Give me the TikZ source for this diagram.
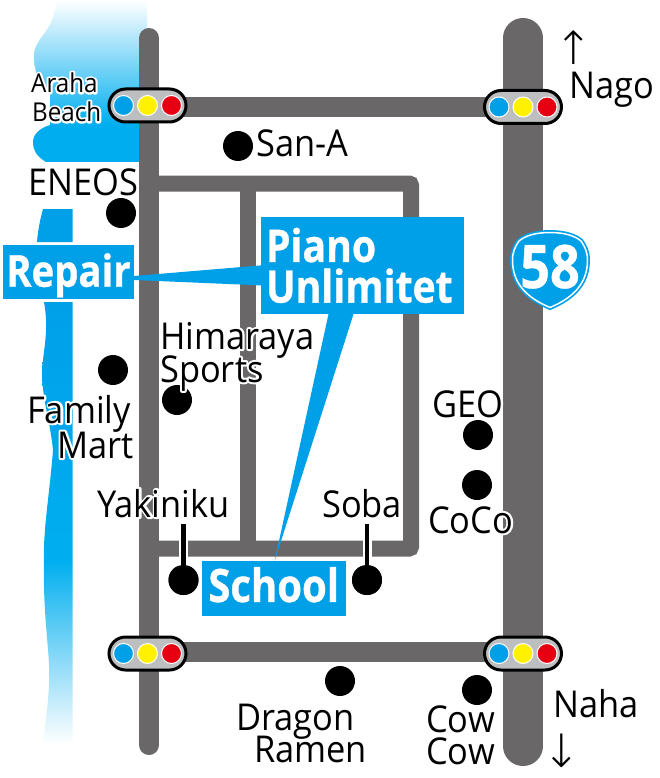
\documentclass[tikz,border=0pt]{standalone}
\usepackage{fontspec}
\setmainfont{Open Sans}[FakeStretch=0.93]
\newfontfamily\calloutfont{Open Sans}[FakeStretch=0.87,BoldFeatures={FakeBold=0.7}]
\newfontfamily\arrowfont{DejaVu Sans ExtraLight}
\usetikzlibrary{shapes.misc,positioning}
\definecolor{roadgray}{HTML}{696767}
\definecolor{boxblue}{HTML}{00A0E9}
\definecolor{seablue}{HTML}{00AEEF}
\definecolor{lampgray}{HTML}{BCBEC0}
\definecolor{lampyellow}{HTML}{FFF100}
\definecolor{lampred}{HTML}{E60012}
\newcommand{\halo}[1]{\leavevmode\rlap{\special{pdf:code 1 1 1 RG 4 w 1 j 1 Tr}#1\special{pdf:code 0 Tr}}#1}
\tikzset{
	mainroad/.style={draw=roadgray,line width=40pt,line cap=round},
	road/.style={draw=roadgray,line width=20pt,line cap=round},
	sideroad/.style={draw=roadgray,line width=16pt,rounded corners=2pt},
	tlight/.style={rounded rectangle,draw=black,fill=lampgray,line width=3pt,minimum width=77pt,minimum height=33pt,inner sep=0pt},
	lamp/.style={circle,draw=white,line width=1pt,minimum size=20pt,inner sep=0pt},
	shop/.style={circle,fill=black,minimum size=30pt,inner sep=0pt},
	stem/.style={draw=white,double=black,line width=2.25pt,double distance=4.5pt},
	place/.style={anchor=base west,inner sep=0pt,font=\fontsize{37}{37}\selectfont},
	beach/.style={place,font=\fontsize{26}{26}\selectfont},
	way/.style={anchor=base,inner sep=0pt,font=\arrowfont\fontsize{46}{46}\selectfont},
	callout/.style={fill=boxblue,text=white,inner sep=0pt,font=\calloutfont\bfseries\fontsize{44}{44}\selectfont},
	pointer/.style={fill=boxblue}
}
\begin{document}
\begin{tikzpicture}[x=1pt,y=-1pt]
	\useasboundingbox (0,0) rectangle (660,778);

	\shade[top color=white,bottom color=seablue] (56,0) -- (147,0) -- (147,125) -- (50,125) -- (50,95) .. controls (38,85) and (34,70) .. (34,55) .. controls (34,38) and (56,30) .. (56,0) -- cycle;
	\fill[seablue] (147,125) -- (147,162) -- (46,162) .. controls (36,156) and (33,150) .. (33,142) .. controls (33,134) and (40,128) .. (50,125) -- cycle;
	\fill[boxblue] (43,209) -- (72.5,209) -- (72.5,242) -- (37,242) .. controls (38,230) and (40,220) .. (43,209) -- cycle;
	\shade[top color=boxblue,bottom color=seablue] (44,302) -- (72.5,302) -- (72.5,560) -- (44,560) .. controls (43,530) and (50,490) .. (53,450) .. controls (50,420) and (42,400) .. (42,370) .. controls (44,345) and (49,330) .. (44,302) -- cycle;
	\shade[top color=seablue,bottom color=white] (44,560) -- (72.5,560) -- (72.5,744) -- (43,744) .. controls (45,720) and (50,700) .. (49,665) .. controls (48,640) and (43,610) .. (44,560) -- cycle;

	\coordinate (nwroad) at (149,107);
	\coordinate (neroad) at (523,107);
	\coordinate (swroad) at (149,652);
	\coordinate (seroad) at (523,652);
	\draw[road] (149,38) -- (149,745);
	\draw[mainroad] (523,38) -- (523,746);
	\draw[road,line cap=butt] (nwroad) -- (neroad);
	\draw[road,line cap=butt] (swroad) -- (seroad);
	\coordinate (tl) at (149,183.5);
	\coordinate (tm) at (248,183.5);
	\coordinate (tr) at (411,183.5);
	\coordinate (br) at (411,548.5);
	\coordinate (bm) at (248,548.5);
	\coordinate (bl) at (149,548.5);
	\draw[sideroad] (tl) -- (tr) -- (br) -- (bl);
	\draw[sideroad] (tm) -- (bm);

	\foreach \lname/\lx/\ly in {nw/147.5/105.5,ne/523/107,sw/147.5/653.5,se/523/653.5}{
		\node[tlight] (\lname) at (\lx,\ly) {};
		\node[lamp,fill=boxblue,left=13.5pt of \lname.center] (\lname b) {};
		\node[lamp,fill=lampyellow] (\lname y) at (\lname.center) {};
		\node[lamp,fill=lampred,right=13.5pt of \lname.center] (\lname r) {};
	}

	\node[shop] (eneosdot) at (121,213) {};
	\node[shop] (sanadot) at (238,146) {};
	\node[shop] (familydot) at (113,370) {};
	\node[shop] (himarayadot) at (177,400) {};
	\node[shop] (geodot) at (478,435) {};
	\node[shop] (cocodot) at (477,485) {};
	\node[shop] (dragondot) at (340,681) {};
	\node[shop] (cowdot) at (477,690) {};
	\node[shop] (yakinikudot) at (183.5,580) {};
	\node[shop] (sobadot) at (367,580) {};

	\node[place] (eneos) at (28,195) {ENEOS};
	\node[place] (sana) at (256,157) {San-A};
	\node[place] (nago) at (569,99) {Nago};
	\node[place] (naha) at (553,717) {Naha};
	\node[place] (himaraya) at (160,349) {\halo{Himaraya}};
	\node[place] (sports) at (160,382) {\halo{Sports}};
	\node[place] (family) at (27,423) {\halo{Family}};
	\node[place] (mart) at (57,458) {\halo{Mart}};
	\node[place] (yakiniku) at (97,517) {\halo{Yakiniku}};
	\node[place] (soba) at (322,517) {\halo{Soba}};
	\node[place] (geo) at (432,417) {\halo{GEO}};
	\node[place] (coco) at (428,533) {\halo{CoCo}};
	\node[place] (dragon) at (236,730) {Dragon};
	\node[place] (ramen) at (254,762) {Ramen};
	\node[place] (cow) at (426,732) {Cow};
	\node[place] (cowb) at (426,764) {Cow};
	\node[beach] (araha) at (31,92.5) {\halo{Araha}};
	\node[beach] (beach) at (32,121.5) {\halo{Beach}};
	\node[way] (north) at (574,65) {↑};
	\node[way] (south) at (562,767) {↓};

	\draw[stem,shorten >=6pt] (yakinikudot.center) -- (yakinikudot.center |- yakiniku.south);
	\draw[stem,shorten >=6pt] (sobadot.center) -- (sobadot.center |- soba.south);
	\node[shop] at (yakinikudot) {};
	\node[shop] at (sobadot) {};

	\node[callout,minimum width=131pt,minimum height=54pt,text depth=4pt] (repair) at (68.5,272) {Repair};
	\node[callout,minimum width=144pt,minimum height=55pt,text depth=8pt,font=\calloutfont\bfseries\fontsize{46}{46}\selectfont] (school) at (273.7,588.5) {School};
	\node[callout,minimum width=203pt,minimum height=97pt,text width=193pt,align=left,font=\calloutfont\bfseries\fontsize{45}{40.7}\selectfont] (piano) at (362.5,265.4) {Piano\\Unlimitet};
	\fill[pointer] ([yshift=-4pt]repair.east) -- (piano.west) -- ([yshift=-20pt]piano.west) -- ([yshift=-8pt]repair.east) -- cycle;
	\fill[pointer] ([xshift=-34pt]piano.south) -- ([xshift=-9pt]piano.south) -- ([xshift=1pt]school.north) -- cycle;

	\draw[boxblue,fill=boxblue,double=white,line width=1.7pt,double distance=1.5pt] (550,232.5) .. controls (565,232.5) and (575,236) .. (581,241) .. controls (585,247) and (587.5,252) .. (587.5,260) .. controls (587.5,282) and (575,297) .. (550,307.5) .. controls (525,297) and (512.5,282) .. (512.5,260) .. controls (512.5,252) and (515,247) .. (519,241) .. controls (525,236) and (535,232.5) .. (550,232.5) -- cycle;
	\node[anchor=base,inner sep=0pt,text=white,font=\calloutfont\bfseries\fontsize{60}{60}\selectfont] (fiftyeight) at (550,288) {58};
\end{tikzpicture}
\end{document}
